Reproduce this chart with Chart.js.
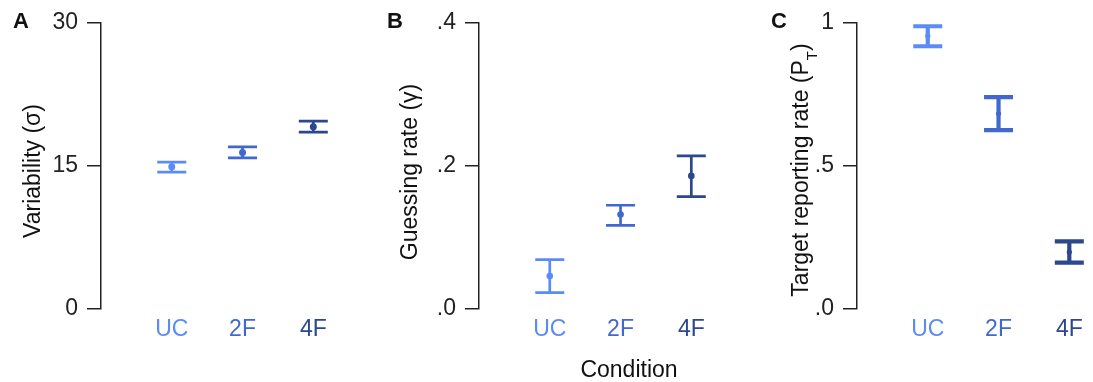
<!DOCTYPE html>
<html>
<head>
<meta charset="utf-8">
<script src="https://cdn.jsdelivr.net/npm/chart.js@4.4.1/dist/chart.umd.min.js"></script>
<style>
  body { margin: 0; background: #fff; }
  .panel { position: absolute; top: 0; height: 382px; width: 335px; }
  #pa { left: 0; }
  #pb { left: 378px; }
  #pc { left: 756px; }
</style>
</head>
<body>
<div class="panel" id="pa"><canvas id="chartA"></canvas></div>
<div class="panel" id="pb"><canvas id="chartB"></canvas></div>
<div class="panel" id="pc"><canvas id="chartC"></canvas></div>
<script>
var FONT = '"Liberation Sans", Arial, Helvetica, sans-serif';

var categories = ['UC', '2F', '4F'];
var catColors = ['#5b8cf5', '#4068cf', '#2c478c'];

// A: variability (sigma)
var sigmaMean = [14.9, 16.4, 19.1];
var sigmaLow = [14.35, 15.85, 18.55];
var sigmaHigh = [15.4, 17.0, 19.7];
var sigmaTicks = [0, 15, 30];
var sigmaTickLabels = ['0', '15', '30'];

// B: guessing rate (gamma)
var gammaMean = [0.046, 0.132, 0.186];
var gammaLow = [0.023, 0.117, 0.157];
var gammaHigh = [0.069, 0.145, 0.214];
var gammaTicks = [0, 0.2, 0.4];
var gammaTickLabels = ['.0', '.2', '.4'];

// C: target reporting rate (P_T)
var ptMean = [0.954, 0.683, 0.199];
var ptLow = [0.918, 0.625, 0.162];
var ptHigh = [0.988, 0.740, 0.236];
var ptTicks = [0, 0.5, 1];
var ptTickLabels = ['.0', '.5', '1'];

// error bars, drawn under the points
var errorBars = {
  id: 'errorBars',
  beforeDatasetsDraw: function(chart, args, opts) {
    var ctx = chart.ctx;
    var xs = chart.scales.x, ys = chart.scales.y;
    var pts = chart.data.datasets[0].data;
    ctx.save();
    ctx.lineWidth = opts.lineWidth;
    for (var i = 0; i < pts.length; i++) {
      var x = xs.getPixelForValue(pts[i].x);
      var yl = ys.getPixelForValue(opts.low[i]);
      var yh = ys.getPixelForValue(opts.high[i]);
      ctx.strokeStyle = catColors[i];
      ctx.beginPath();
      ctx.moveTo(x, yl); ctx.lineTo(x, yh);
      ctx.moveTo(x - opts.cap / 2, yl); ctx.lineTo(x + opts.cap / 2, yl);
      ctx.moveTo(x - opts.cap / 2, yh); ctx.lineTo(x + opts.cap / 2, yh);
      ctx.stroke();
    }
    ctx.restore();
  }
};

// panel letter, rotated y title (with subscript parts), optional x title
var panelText = {
  id: 'panelText',
  afterDraw: function(chart, args, opts) {
    var ctx = chart.ctx;
    ctx.save();
    ctx.fillStyle = '#111';
    ctx.textBaseline = 'alphabetic';
    ctx.font = 'bold 22px ' + FONT;
    ctx.textAlign = 'center';
    ctx.fillText(opts.letter, opts.letterX, 28);

    if (opts.xTitle) {
      ctx.font = '23px ' + FONT;
      ctx.fillText(opts.xTitle, opts.xTitleX, 377);
    }

    ctx.translate(opts.titleX, opts.titleY);
    ctx.rotate(-Math.PI / 2);
    ctx.textAlign = 'left';
    var total = 0;
    opts.title.forEach(function(seg) {
      ctx.font = seg.size + 'px ' + FONT;
      total += ctx.measureText(seg.text).width;
    });
    var pos = -total / 2;
    opts.title.forEach(function(seg) {
      ctx.font = seg.size + 'px ' + FONT;
      ctx.fillText(seg.text, pos, seg.dy || 0);
      pos += ctx.measureText(seg.text).width;
    });
    ctx.restore();
  }
};

function makePanel(id, mean, low, high, yTicks, yLabels, yMax, style) {
  var points = [];
  for (var i = 0; i < mean.length; i++) {
    points.push({ x: i + 1, y: mean[i] });
  }
  return new Chart(document.getElementById(id), {
    type: 'scatter',
    data: {
      datasets: [{
        data: points,
        pointRadius: style.radius,
        pointBackgroundColor: catColors,
        pointBorderWidth: 0
      }]
    },
    options: {
      responsive: true,
      maintainAspectRatio: false,
      animation: false,
      layout: { padding: { left: 0, right: 0, top: 21, bottom: 0 } },
      plugins: {
        legend: { display: false },
        tooltip: { enabled: false },
        errorBars: { low: low, high: high, lineWidth: style.lineWidth, cap: 29 },
        panelText: style.text
      },
      scales: {
        x: {
          type: 'linear',
          min: 0,
          max: 3.25,
          grid: { display: false, drawTicks: false },
          border: { display: false },
          afterBuildTicks: function(s) {
            s.ticks = categories.map(function(c, i) { return { value: i + 1 }; });
          },
          afterFit: function(s) { s.height = 73; },
          ticks: {
            padding: 7,
            maxRotation: 0,
            autoSkip: false,
            font: { size: 23, family: FONT },
            color: function(c) { return catColors[c.index]; },
            callback: function(v) { return categories[v - 1]; }
          }
        },
        y: {
          min: 0,
          max: yMax,
          afterBuildTicks: function(s) {
            s.ticks = yTicks.map(function(v) { return { value: v }; });
          },
          afterFit: function(s) { s.width = 101; },
          grid: { drawOnChartArea: false, drawTicks: true, tickLength: 14, color: '#222', lineWidth: 1.5 },
          border: { display: true, color: '#222', width: 1.5 },
          ticks: {
            padding: 9,
            color: '#222',
            font: { size: 23, family: FONT },
            callback: function(v, i) { return yLabels[i]; }
          }
        }
      }
    },
    plugins: [errorBars, panelText]
  });
}

makePanel('chartA', sigmaMean, sigmaLow, sigmaHigh, sigmaTicks, sigmaTickLabels, 30, {
  radius: 3.5, lineWidth: 2.7,
  text: { letter: 'A', letterX: 21, titleX: 40, titleY: 171,
          title: [{ text: 'Variability (\u03c3)', size: 23 }] }
});

makePanel('chartB', gammaMean, gammaLow, gammaHigh, gammaTicks, gammaTickLabels, 0.4, {
  radius: 3.3, lineWidth: 2.7,
  text: { letter: 'B', letterX: 17, titleX: 39, titleY: 172,
          title: [{ text: 'Guessing rate (\u03b3)', size: 23 }],
          xTitle: 'Condition', xTitleX: 251 }
});

makePanel('chartC', ptMean, ptLow, ptHigh, ptTicks, ptTickLabels, 1, {
  radius: 2.6, lineWidth: 4.2,
  text: { letter: 'C', letterX: 23, titleX: 52, titleY: 170,
          title: [{ text: 'Target reporting rate (P', size: 23 },
                  { text: 'T', size: 15, dy: 9 },
                  { text: ')', size: 23 }] }
});
</script>
</body>
</html>
